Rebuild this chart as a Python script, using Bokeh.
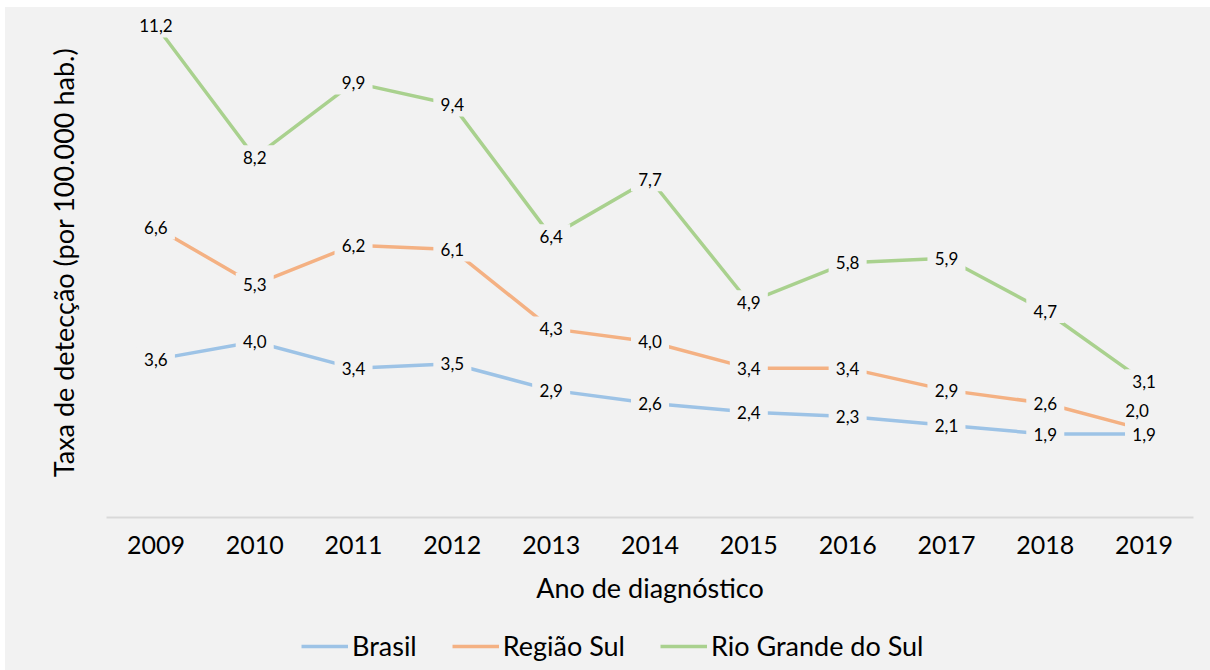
from bokeh.plotting import figure
from bokeh.layouts import column
from bokeh.models import (ColumnDataSource, Legend, LegendItem,
                          FactorRange, Range1d, FixedTicker)
from bokeh.core.properties import value
from bokeh.embed import file_html
from bokeh.resources import INLINE

years = ["2009", "2010", "2011", "2012", "2013", "2014", "2015", "2016", "2017", "2018", "2019"]
brasil = [3.6, 4.0, 3.4, 3.5, 2.9, 2.6, 2.4, 2.3, 2.1, 1.9, 1.9]
regiao_sul = [6.6, 5.3, 6.2, 6.1, 4.3, 4.0, 3.4, 3.4, 2.9, 2.6, 2.0]
rio_grande_do_sul = [11.2, 8.2, 9.9, 9.4, 6.4, 7.7, 4.9, 5.8, 5.9, 4.7, 3.1]

series_names = ["Brasil", "Região Sul", "Rio Grande do Sul"]
series_values = [brasil, regiao_sul, rio_grande_do_sul]
colors = ["#9dc3e6", "#f4b183", "#a9d18e"]

# manual label nudges (screen px), as in the original chart
label_nudge = {("Região Sul", "2019"): (-7, -19)}

FONT = "Lato"
BG = "#f2f2f2"

p = figure(x_range=FactorRange(factors=years, range_padding=0),
           y_range=Range1d(0, 11.61),
           width=1205, height=615, output_backend="svg", toolbar_location=None,
           background_fill_color=BG, border_fill_color=BG, outline_line_color=None,
           min_border_left=101, min_border_right=17, min_border_top=0, min_border_bottom=105)

p.xgrid.visible = False
p.ygrid.visible = False

xa = p.xaxis[0]
xa.axis_line_color = "#d9d9d9"
xa.axis_line_width = 2
xa.major_tick_line_color = None
xa.minor_tick_line_color = None
xa.major_tick_out = 0
xa.major_tick_in = 0
xa.major_label_text_font = FONT
xa.major_label_text_font_size = "25px"
xa.major_label_text_color = "#000000"
xa.major_label_standoff = 18
xa.axis_label = "Ano de diagnóstico"
xa.axis_label_text_font = FONT
xa.axis_label_text_font_size = "27px"
xa.axis_label_text_font_style = "normal"
xa.axis_label_text_color = "#000000"
xa.axis_label_standoff = 14

ya = p.yaxis[0]
ya.ticker = FixedTicker(ticks=[])
ya.axis_line_color = None
ya.major_tick_line_color = None
ya.minor_tick_line_color = None
ya.major_tick_out = 0
ya.major_tick_in = 0
ya.major_label_standoff = 0
ya.axis_label = "Taxa de detecção (por 100.000 hab.)"
ya.axis_label_text_font = FONT
ya.axis_label_text_font_size = "27px"
ya.axis_label_text_font_style = "normal"
ya.axis_label_text_color = "#000000"
ya.axis_label_standoff = 27

sources = []
for name, vals in zip(series_names, series_values):
    dx = [label_nudge.get((name, y), (0, 0))[0] for y in years]
    dy = [label_nudge.get((name, y), (0, 0))[1] for y in years]
    src = ColumnDataSource(dict(x=years, y=vals, dx=dx, dy=dy,
                                lbl=[f"{v:.1f}".replace(".", ",") for v in vals]))
    sources.append(src)

for src, col in zip(sources, colors):
    p.line("x", "y", source=src, line_color=col, line_width=3.5)

for src in sources:
    p.rect(x="x", y="y", width=38, height=24, width_units="screen", height_units="screen",
           source=src, fill_color=BG, line_color=None)

for src in sources:
    p.text(x="x", y="y", text="lbl", source=src, x_offset="dx", y_offset="dy",
           text_align="center", text_baseline="middle",
           text_font=value(FONT), text_font_size="17px", text_color="#000000")

# legend strip
pl = figure(x_range=FactorRange(factors=years, range_padding=0), y_range=Range1d(1000, 1001),
            width=1205, height=48, output_backend="svg", toolbar_location=None,
            background_fill_color=BG, border_fill_color=BG, outline_line_color=None,
            min_border=0)
pl.axis.visible = False
pl.xgrid.visible = False
pl.ygrid.visible = False
items = []
for name, vals, col in zip(series_names, series_values, colors):
    r = pl.line(x=years, y=vals, line_color=col, line_width=3.5)
    items.append(LegendItem(label=name, renderers=[r]))
legend = Legend(items=items, orientation="horizontal", location=(195, 8),
                background_fill_alpha=0, border_line_color=None,
                label_text_font=FONT, label_text_font_size="27px",
                label_text_color="#000000",
                glyph_width=47, glyph_height=20, label_standoff=4,
                spacing=35, padding=0, margin=0)
pl.add_layout(legend, "center")

layout = column(p, pl, spacing=0, margin=(7, 0, 0, 5), styles={"background-color": BG})
open("out.html", "w").write(file_html(layout, INLINE))
